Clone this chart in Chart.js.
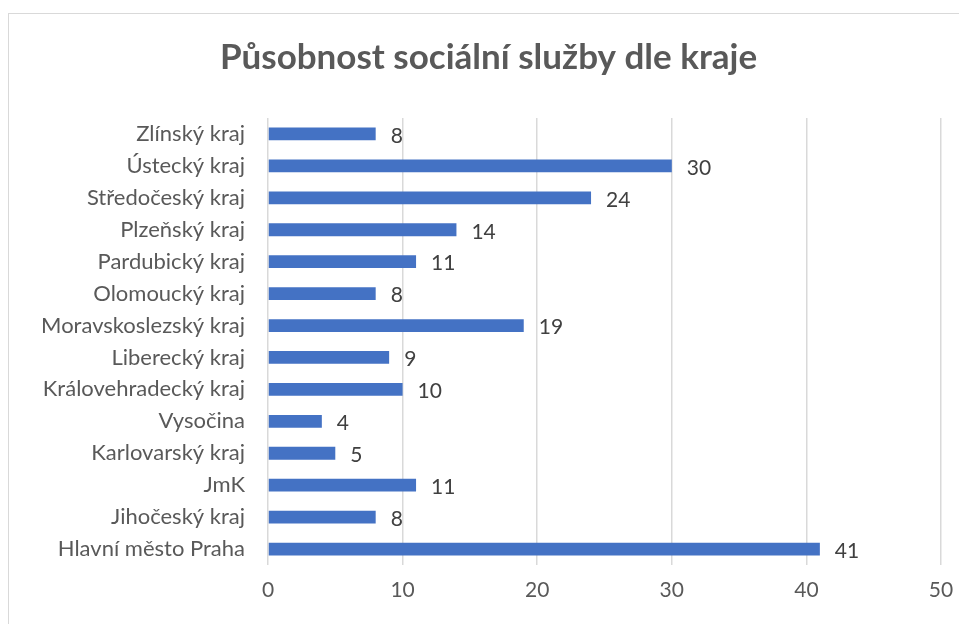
<!DOCTYPE html>
<html>
<head>
<meta charset="utf-8">
<script src="https://cdn.jsdelivr.net/npm/chart.js@4"></script>
<style>
  html, body { margin: 0; padding: 0; background: #fff; }
  #wrap { position: relative; width: 959px; height: 624px; overflow: hidden; }
  #frame { position: absolute; left: 8px; top: 13px; width: 1000px; height: 700px; border: 1px solid #d9d9d9; box-sizing: border-box; }
  #chart { position: absolute; left: 0; top: 0; }
</style>
</head>
<body>
<div id="wrap">
  <div id="frame"></div>
  <canvas id="chart" width="959" height="624"></canvas>
</div>
<script>
const regions = [
  'Zlínský kraj', 'Ústecký kraj', 'Středočeský kraj', 'Plzeňský kraj',
  'Pardubický kraj', 'Olomoucký kraj', 'Moravskoslezský kraj', 'Liberecký kraj',
  'Královehradecký kraj', 'Vysočina', 'Karlovarský kraj', 'JmK',
  'Jihočeský kraj', 'Hlavní město Praha'
];
const counts = [8, 30, 24, 14, 11, 8, 19, 9, 10, 4, 5, 11, 8, 41];
const xTicks = [0, 10, 20, 30, 40, 50];

const FONT = 'Lato, Carlito, "Open Sans", sans-serif';
const TEXT = '#595959';

// value labels just right of each bar end
const valueLabels = {
  id: 'valueLabels',
  afterDatasetsDraw(chart) {
    const c = chart.ctx;
    const meta = chart.getDatasetMeta(0);
    c.save();
    c.font = `21px ${FONT}`;
    c.fillStyle = '#404040';
    c.textAlign = 'left';
    c.textBaseline = 'middle';
    meta.data.forEach((bar, i) => {
      c.fillText(String(counts[i]), bar.x + 15, bar.y + 2);
    });
    c.restore();
  }
};

new Chart(document.getElementById('chart'), {
  type: 'bar',
  data: {
    labels: regions,
    datasets: [{
      data: counts,
      backgroundColor: '#4472C4',
      borderWidth: 0,
      categoryPercentage: 1,
      barPercentage: 0.4
    }]
  },
  options: {
    indexAxis: 'y',
    responsive: false,
    animation: false,
    layout: { padding: { left: 36, right: 18, top: 0, bottom: 0 } },
    plugins: {
      legend: { display: false },
      tooltip: { enabled: false },
      title: {
        display: true,
        text: 'Působnost sociální služby dle kraje',
        color: TEXT,
        font: { family: FONT, size: 35, weight: 'bold' },
        padding: { top: 37, bottom: 39 }
      }
    },
    scales: {
      x: {
        min: 0,
        max: 50,
        afterBuildTicks: s => { s.ticks = xTicks.map(v => ({ value: v })); },
        afterFit: s => { s.height = 59; s.paddingLeft = 0; s.paddingRight = 0; },
        grid: { color: '#d9d9d9', lineWidth: 1.5, drawTicks: false },
        border: { display: false },
        ticks: {
          color: TEXT,
          padding: 13,
          font: { family: FONT, size: 21 }
        }
      },
      y: {
        afterFit: s => { s.width = 232; },
        grid: { display: false },
        border: { display: false },
        ticks: {
          color: TEXT,
          padding: 15,
          autoSkip: false,
          font: { family: FONT, size: 22 }
        }
      }
    }
  },
  plugins: [valueLabels]
});
</script>
</body>
</html>
